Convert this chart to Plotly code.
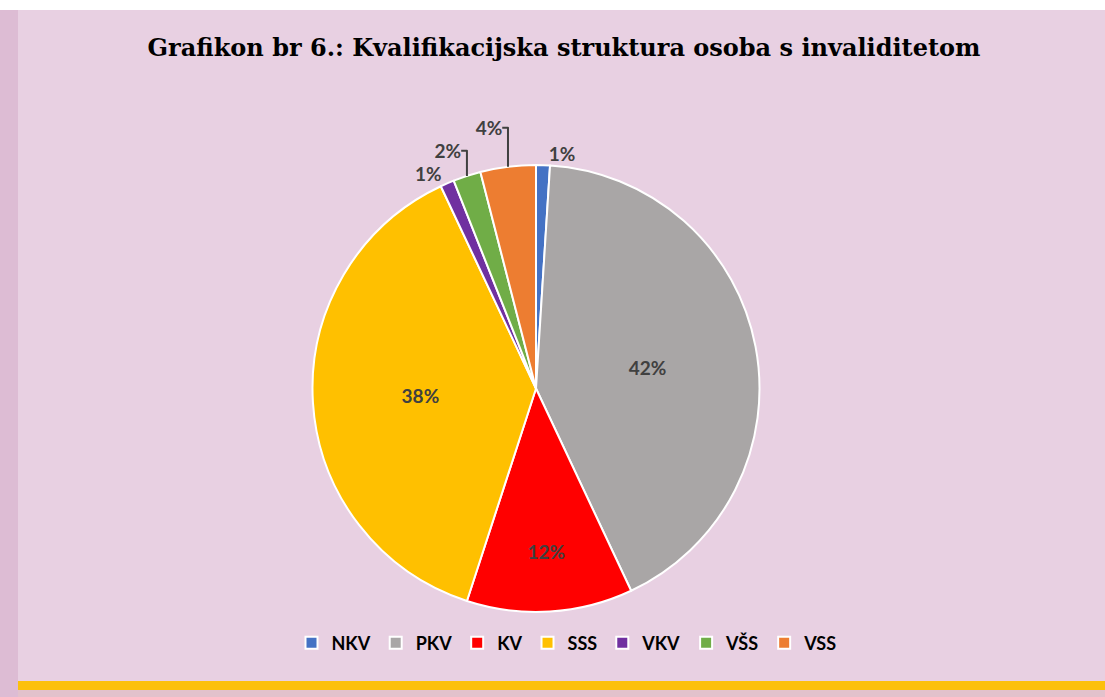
import plotly.graph_objects as go

categories = ["NKV", "PKV", "KV", "SSS", "VKV", "VŠS", "VSS"]
values = [1, 42, 12, 38, 1, 2, 4]
colors = ["#4472C4", "#A9A6A6", "#FF0000", "#FFC000", "#7030A0", "#70AD47", "#ED7D31"]
text_positions = ["outside", "inside", "inside", "inside", "outside", "outside", "outside"]

W, H = 1105, 697

fig = go.Figure()
fig.add_trace(go.Pie(
    labels=categories,
    values=values,
    sort=False,
    direction="clockwise",
    rotation=0,
    marker=dict(colors=colors, line=dict(color="#FFFFFF", width=2)),
    texttemplate="%{percent:.0%}",
    textposition=text_positions,
    textfont=dict(family="Lato", size=19, color="#404040", weight="bold"),
    insidetextorientation="horizontal",
    hoverinfo="label+percent",
    domain=dict(x=[165 / W, 907 / W], y=[1 - 612 / H, 1 - 165 / H]),
))

shapes = [
    dict(type="rect", xref="paper", yref="paper", x0=0, x1=1, y0=1 - 10 / H, y1=1,
         fillcolor="#FFFFFF", line=dict(width=0), layer="below"),
    dict(type="rect", xref="paper", yref="paper", x0=0, x1=18 / W, y0=0, y1=1 - 10 / H,
         fillcolor="#DDBCD4", line=dict(width=0), layer="below"),
    dict(type="rect", xref="paper", yref="paper", x0=18 / W, x1=1, y0=1 - 690 / H, y1=1 - 681 / H,
         fillcolor="#FCC00C", line=dict(width=0), layer="below"),
    dict(type="rect", xref="paper", yref="paper", x0=18 / W, x1=1, y0=0, y1=1 - 690 / H,
         fillcolor="#E2C2CC", line=dict(width=0), layer="below"),
]

fig.update_layout(
    width=W, height=H,
    paper_bgcolor="#E8D0E2",
    plot_bgcolor="#E8D0E2",
    margin=dict(l=0, r=0, t=0, b=0),
    title=dict(
        text="<b>Grafikon br 6.: Kvalifikacijska struktura osoba s invaliditetom</b>",
        font=dict(family="DejaVu Serif", size=24, color="#000000"),
        x=564 / W, xanchor="center",
        y=1 - 48 / H, yanchor="middle",
    ),
    legend=dict(
        orientation="h",
        x=567 / W, xanchor="center",
        y=1 - 643 / H, yanchor="middle",
        font=dict(family="Lato", size=18, color="#000000", weight="bold"),
        bgcolor="rgba(0,0,0,0)",
        itemwidth=30,
        traceorder="normal",
    ),
    shapes=shapes,
    showlegend=True,
)

fig.write_html(
    "out.html",
    config={"displayModeBar": False},
    post_script="document.body.style.margin='0';document.body.style.padding='0';",
)
